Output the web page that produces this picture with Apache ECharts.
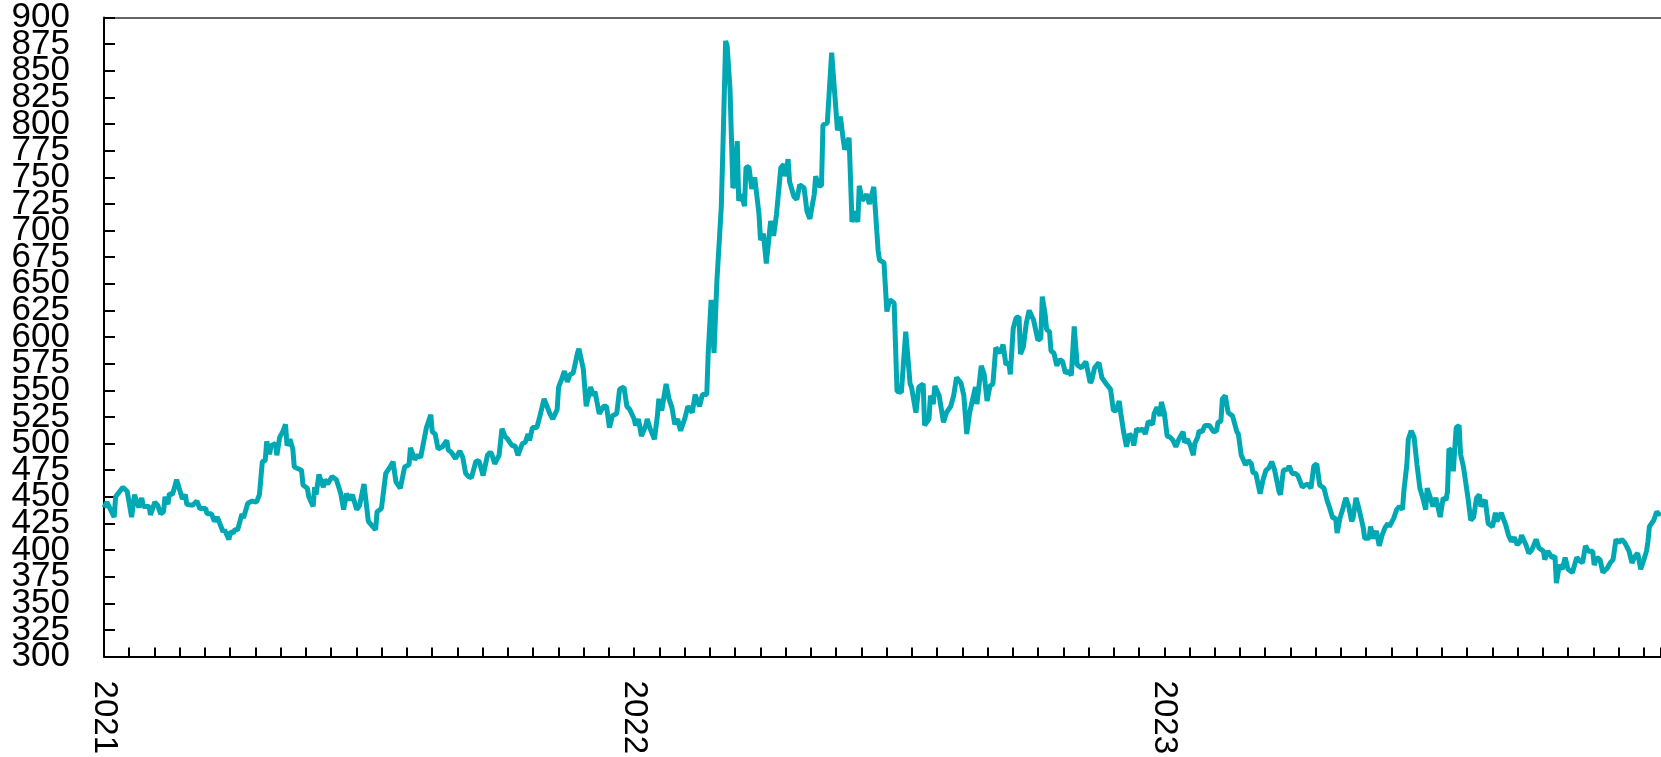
<!DOCTYPE html>
<html>
<head>
<meta charset="utf-8">
<title>Price 2021-2023</title>
<script src="https://cdn.jsdelivr.net/npm/echarts@6/dist/echarts.min.js"></script>
<style>
  html, body { margin: 0; padding: 0; background: #ffffff; }
  #chart { width: 1661px; height: 757px; }
</style>
</head>
<body>
<div id="chart"></div>
<script>
// days since 2021-01-01 at the line's turning points
const dayOffsets = [
  0, 2, 7, 8, 13, 16, 19, 21, 24, 26, 27, 31, 32, 35, 37, 39, 41, 42, 44, 45,
  47, 48, 50, 54, 56, 57, 61, 64, 66, 70, 71, 74, 76, 78, 80, 82, 83, 86, 87, 89,
  90, 92, 95, 96, 99, 102, 105, 107, 109, 111, 112, 114, 115, 118, 119, 121, 123, 125, 126, 128,
  130, 131, 136, 137, 140, 141, 144, 145, 146, 148, 151, 152, 154, 157, 160, 163, 165, 167, 169, 171,
  174, 176, 179, 182, 187, 188, 191, 194, 197, 199, 201, 204, 207, 210, 211, 214, 216, 218, 220, 222,
  225, 226, 228, 230, 233, 236, 237, 239, 242, 245, 247, 249, 251, 253, 256, 258, 259, 261, 264, 266,
  267, 269, 272, 274, 276, 278, 281, 283, 285, 288, 290, 292, 293, 295, 298, 300, 301, 303, 305, 307,
  309, 312, 313, 315, 317, 319, 321, 323, 326, 327, 330, 332, 335, 337, 338, 341, 344, 346, 348, 350,
  353, 355, 358, 360, 362, 365, 366, 368, 370, 373, 374, 376, 379, 381, 382, 384, 387, 389, 391, 393,
  395, 397, 399, 400, 402, 405, 407, 410, 412, 415, 416, 418, 420, 422, 425, 426, 428, 429, 431, 433,
  434, 436, 437, 439, 441, 442, 444, 446, 448, 451, 452, 454, 456, 459, 461, 463, 466, 468, 469, 471,
  472, 475, 477, 479, 482, 484, 486, 489, 490, 492, 494, 495, 498, 501, 505, 507, 509, 510, 513, 515,
  517, 519, 520, 522, 525, 527, 530, 533, 534, 537, 538, 539, 541, 544, 546, 549, 552, 555, 556, 559,
  561, 564, 565, 568, 569, 571, 572, 575, 578, 580, 583, 585, 587, 590, 592, 594, 596, 600, 601, 604,
  606, 608, 610, 612, 614, 617, 619, 621, 623, 624, 626, 628, 630, 631, 633, 635, 637, 640, 641, 643,
  645, 646, 648, 649, 651, 652, 654, 656, 658, 660, 662, 664, 666, 668, 670, 673, 676, 679, 680, 682,
  685, 687, 690, 693, 695, 697, 699, 700, 702, 704, 706, 708, 709, 711, 713, 715, 717, 719, 722, 723,
  725, 727, 728, 730, 732, 734, 736, 738, 740, 743, 744, 746, 748, 750, 751, 753, 754, 756, 758, 761,
  764, 766, 767, 769, 770, 772, 774, 777, 780, 781, 783, 786, 788, 790, 791, 793, 796, 798, 800, 802,
  804, 806, 809, 810, 812, 815, 816, 818, 820, 822, 825, 827, 829, 831, 833, 835, 837, 840, 842, 844,
  846, 848, 849, 851, 853, 855, 857, 859, 860, 862, 864, 867, 868, 871, 872, 874, 876, 878, 880, 882,
  884, 885, 888, 890, 892, 894, 895, 897, 898, 900, 902, 904, 906, 908, 910, 911, 913, 915, 917, 920,
  922, 924, 925, 926, 928, 929, 930, 931, 933, 934, 936, 939, 941, 943, 945, 947, 948, 951, 953, 956,
  958, 959, 962, 965, 967, 969, 971, 973, 975, 976, 979, 981, 983, 986, 988, 991, 992, 994, 997, 999,
  1000, 1002, 1004, 1006, 1008, 1011, 1014, 1016, 1018, 1020, 1022, 1025, 1026, 1028, 1030, 1032, 1035, 1037, 1039, 1041,
  1043, 1045, 1047, 1050, 1052, 1054, 1056, 1058, 1060, 1062, 1063, 1064, 1067, 1069, 1071, 1072
];

const prices = [
  440, 445, 431, 450, 459, 455, 431, 452, 440, 449, 441, 441, 433, 445, 442, 434, 436, 450, 443, 453,
  452, 456, 466, 448, 452, 443, 442, 446, 439, 439, 434, 434, 427, 431, 424, 417, 419, 410, 417, 416,
  419, 419, 434, 430, 444, 446, 445, 452, 483, 484, 502, 490, 498, 500, 489, 506, 511, 518, 498, 504,
  495, 478, 475, 461, 458, 450, 441, 459, 452, 471, 459, 466, 462, 469, 466, 453, 438, 453, 447, 452,
  438, 442, 462, 427, 419, 436, 439, 472, 478, 483, 464, 458, 478, 480, 496, 485, 489, 487, 501, 515,
  527, 511, 509, 495, 497, 503, 494, 492, 486, 493, 487, 472, 469, 468, 483, 484, 480, 470, 489, 492,
  490, 481, 489, 514, 507, 504, 498, 498, 489, 500, 501, 509, 503, 515, 515, 525, 525, 542, 535, 528,
  523, 532, 553, 560, 568, 558, 565, 566, 585, 589, 570, 535, 553, 545, 549, 528, 535, 535, 515, 526,
  528, 551, 553, 535, 532, 523, 517, 523, 507, 517, 523, 514, 504, 526, 542, 531, 556, 542, 534, 518,
  523, 512, 520, 524, 535, 529, 546, 535, 546, 546, 585, 635, 585, 653, 722, 771, 878, 874, 833, 740,
  743, 784, 728, 734, 723, 759, 760, 739, 750, 715, 691, 697, 669, 709, 695, 715, 759, 762, 751, 767,
  746, 732, 729, 743, 740, 718, 711, 734, 751, 742, 742, 799, 801, 867, 794, 807, 785, 776, 787, 708,
  718, 708, 742, 728, 734, 725, 741, 681, 672, 670, 647, 624, 635, 632, 549, 548, 605, 556, 553, 529,
  553, 556, 517, 523, 545, 537, 554, 545, 520, 529, 535, 545, 562, 557, 545, 509, 529, 553, 537, 573,
  565, 540, 554, 556, 590, 585, 593, 574, 576, 565, 608, 618, 619, 584, 591, 613, 625, 616, 615, 597,
  599, 638, 621, 607, 605, 587, 585, 573, 579, 577, 566, 568, 564, 610, 574, 571, 577, 557, 559, 571,
  576, 562, 556, 551, 531, 531, 540, 529, 511, 497, 509, 506, 498, 514, 512, 514, 509, 521, 518, 528,
  534, 526, 539, 529, 507, 506, 503, 497, 504, 511, 501, 504, 498, 489, 500, 506, 512, 511, 517, 517,
  511, 512, 520, 521, 542, 545, 529, 526, 511, 509, 489, 480, 484, 481, 473, 472, 453, 466, 475, 477,
  483, 475, 455, 452, 475, 476, 479, 472, 472, 470, 459, 461, 462, 458, 479, 481, 461, 458, 447, 439,
  430, 430, 416, 430, 439, 449, 441, 427, 430, 449, 439, 421, 411, 411, 422, 411, 418, 404, 414, 421,
  425, 422, 430, 438, 441, 438, 456, 480, 504, 512, 506, 480, 458, 449, 438, 458, 450, 441, 449, 431,
  449, 447, 455, 495, 493, 474, 495, 515, 517, 490, 478, 450, 428, 431, 449, 452, 441, 447, 425, 422,
  435, 427, 435, 424, 414, 408, 412, 405, 408, 414, 405, 397, 400, 410, 402, 399, 391, 399, 393, 394,
  369, 386, 382, 393, 382, 379, 393, 390, 388, 404, 399, 399, 386, 393, 391, 379, 383, 388, 391, 410,
  407, 410, 407, 399, 388, 394, 397, 382, 390, 399, 408, 422, 428, 436, 433, 435
];

const yearLabels = ['2021', '2022', '2023'];
const yMin = 300;
const yMax = 900;
const yStep = 25;
const daysPerYear = 365;
const ticksPerYear = 21;
const lastDay = 1072;

const chart = echarts.init(document.getElementById('chart'));
const seriesData = dayOffsets.map((d, i) => [d, prices[i]]);

function yearLabel(value) {
  const y = value / daysPerYear;
  const k = Math.round(y);
  if (Math.abs(y - k) < 0.001 && yearLabels[k]) return yearLabels[k];
  return '';
}

// the labels sit closer than their own height, so even and odd steps
// go on two stacked axes, otherwise echarts drops the ones next to min/max
function stepLabel(parity) {
  return (value) => {
    const step = Math.round((value - yMin) / yStep);
    return step % 2 === parity ? String(value) : '';
  };
}

const yLabelStyle = {
  margin: 34,
  color: '#000000',
  fontFamily: 'Liberation Sans',
  fontSize: 35,
  showMinLabel: true,
  showMaxLabel: true
};

chart.setOption({
  animation: false,
  grid: { left: 104, right: 0, top: 15, bottom: 97 },
  xAxis: [
    {
      type: 'value',
      min: 0,
      max: lastDay,
      interval: daysPerYear / ticksPerYear,
      axisLine: { lineStyle: { color: '#000000', width: 2 } },
      axisTick: { inside: true, length: 9, lineStyle: { color: '#000000', width: 2 } },
      splitLine: { show: false },
      axisLabel: {
        rotate: -90,
        margin: 24,
        color: '#000000',
        fontFamily: 'Liberation Sans',
        fontSize: 33,
        showMinLabel: true,
        formatter: yearLabel
      }
    },
    {
      type: 'value',
      position: 'top',
      min: 0,
      max: lastDay,
      axisLine: { show: true, lineStyle: { color: '#333333', width: 1.5 } },
      axisTick: { show: false },
      axisLabel: { show: false },
      splitLine: { show: false }
    }
  ],
  yAxis: [
    {
      type: 'value',
      min: yMin,
      max: yMax,
      interval: yStep,
      axisLine: { show: true, lineStyle: { color: '#000000', width: 2 } },
      axisTick: { show: true, inside: true, length: 11, lineStyle: { color: '#000000', width: 2 } },
      splitLine: { show: false },
      axisLabel: { ...yLabelStyle, formatter: stepLabel(0) }
    },
    {
      type: 'value',
      position: 'left',
      offset: 0,
      min: yMin,
      max: yMax,
      interval: yStep,
      axisLine: { show: false },
      axisTick: { show: false },
      splitLine: { show: false },
      axisLabel: { ...yLabelStyle, formatter: stepLabel(1) }
    }
  ],
  series: [
    {
      type: 'line',
      data: seriesData,
      showSymbol: false,
      lineStyle: { color: '#00A8B4', width: 5 },
      itemStyle: { color: '#00A8B4' }
    }
  ]
});
</script>
</body>
</html>
